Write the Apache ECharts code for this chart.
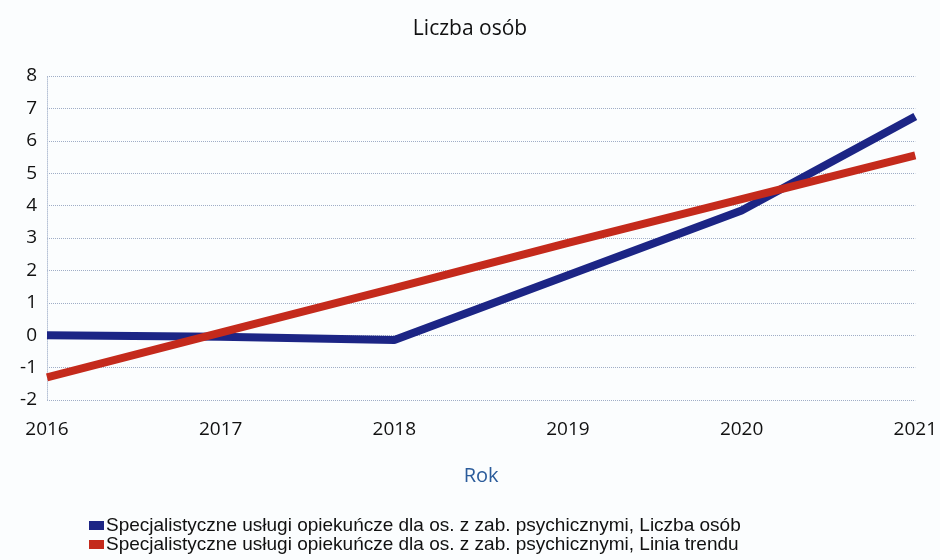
<!DOCTYPE html>
<html>
<head>
<meta charset="utf-8">
<script src="https://cdn.jsdelivr.net/npm/echarts@6/dist/echarts.min.js"></script>
<style>
  html, body { margin: 0; padding: 0; background: #fbfdfe; }
  #chart { width: 940px; height: 560px; }
</style>
</head>
<body>
<div id="chart"></div>
<script>
// dane
var lata = ['2016', '2017', '2018', '2019', '2020', '2021'];
var liczbaOsob = [0, -0.05, -0.15, 1.85, 3.85, 6.75];
var liniaTrendu = [-1.3, 0.08, 1.45, 2.85, 4.2, 5.55];
var nazwySerii = [
  'Specjalistyczne usługi opiekuńcze dla os. z zab. psychicznymi, Liczba osób',
  'Specjalistyczne usługi opiekuńcze dla os. z zab. psychicznymi, Linia trendu'
];

var myChart = echarts.init(document.getElementById('chart'));

var option = {
  backgroundColor: '#fbfdfe',
  animation: false,
  title: {
    text: 'Liczba osób',
    left: 'center',
    top: 14,
    textStyle: { fontFamily: 'Open Sans', fontSize: 21, fontWeight: 500, color: '#111' }
  },
  legend: {
    orient: 'vertical',
    left: 84,
    top: 511,
    itemWidth: 15,
    itemHeight: 9,
    itemGap: 0,
    icon: 'rect',
    data: nazwySerii,
    textStyle: { fontFamily: 'Liberation Sans', fontSize: 19, color: '#111', padding: [0, 0, 0, -3] }
  },
  grid: {
    left: 47,
    right: 20,
    top: 76,
    bottom: 160
  },
  xAxis: {
    type: 'category',
    data: lata,
    boundaryGap: false,
    name: 'Rok',
    nameLocation: 'middle',
    nameGap: 66,
    nameTextStyle: { fontFamily: 'Open Sans', fontSize: 20, color: '#2b5c9b' },
    axisLine: { show: false },
    axisTick: { show: false },
    axisLabel: { fontFamily: 'Open Sans', fontSize: 19, color: '#111', margin: 20, fontWeight: 500 }
  },
  yAxis: {
    type: 'value',
    min: -2,
    max: 8,
    interval: 1,
    axisLine: { show: true, lineStyle: { color: '#b6c2d6', type: 'dotted' } },
    axisTick: { show: false },
    axisLabel: { fontFamily: 'Open Sans', fontSize: 19, color: '#111', margin: 10, fontWeight: 500 },
    splitLine: { lineStyle: { color: '#9fadc6', type: 'dotted', width: 1 } }
  },
  series: [
    {
      name: nazwySerii[0],
      type: 'line',
      data: liczbaOsob,
      symbol: 'none',
      color: '#1c2585',
      lineStyle: { width: 8, color: '#1c2585' }
    },
    {
      name: nazwySerii[1],
      type: 'line',
      data: liniaTrendu,
      symbol: 'none',
      color: '#c42a1c',
      lineStyle: { width: 8, color: '#c42a1c' }
    }
  ]
};

myChart.setOption(option);
</script>
</body>
</html>
